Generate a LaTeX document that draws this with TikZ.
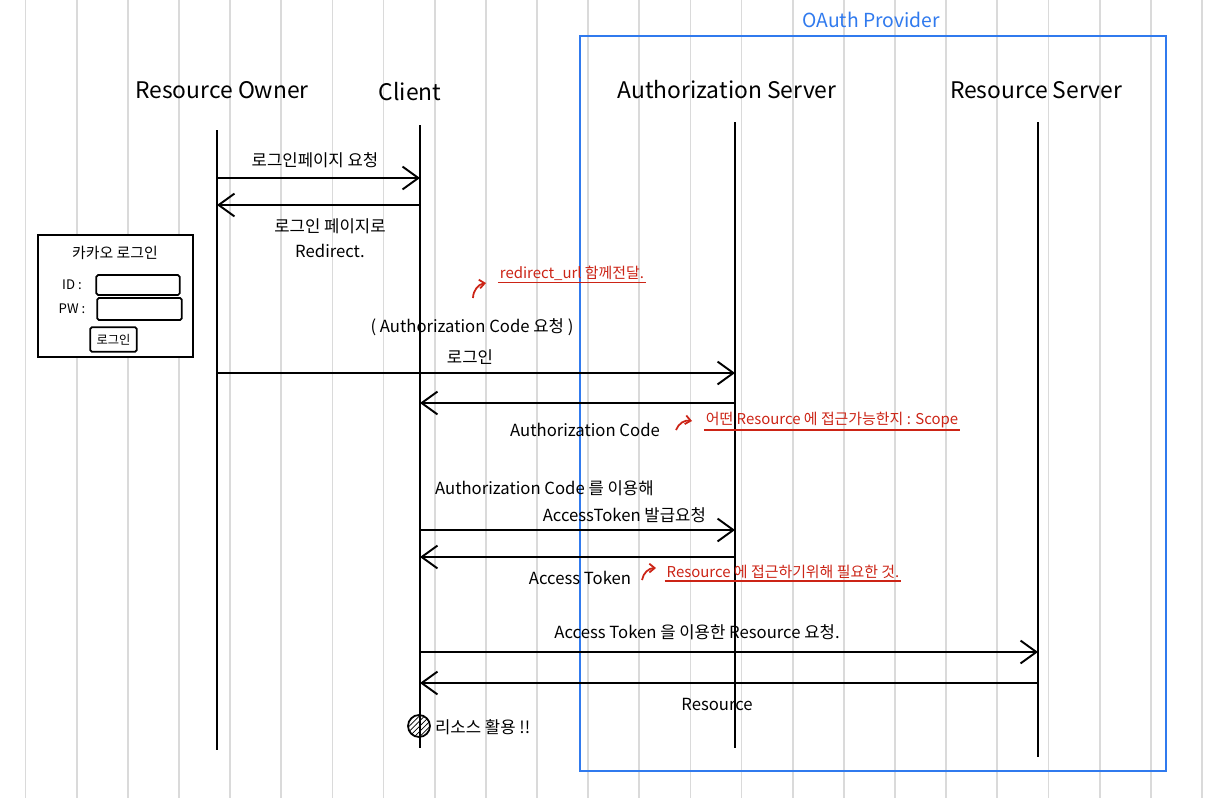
\documentclass[tikz,border=0pt]{standalone}
\usepackage{fontspec}
\setmainfont{Noto Sans CJK KR}
\usepackage{xcolor}
\usepackage{tikz}
\usetikzlibrary{arrows.meta,patterns}
\definecolor{gridgray}{RGB}{218,218,218}
\definecolor{notered}{RGB}{204,36,22}
\definecolor{provblue}{RGB}{48,122,238}

\begin{document}
\begin{tikzpicture}[x=0.02cm,y=-0.02cm,
  actor/.style={font=\fontsize{13}{15}\selectfont,inner sep=1pt},
  life/.style={line width=1.1pt},
  msg/.style={line width=1.1pt,-{Straight Barb[length=9pt,width=13pt,line width=1.1pt]}},
  lbl/.style={font=\fontsize{9.5}{14}\selectfont,align=center,inner sep=1pt},
  note/.style={text=notered,font=\fontsize{8.5}{10}\selectfont,inner sep=1pt},
  hook/.style={draw=notered,line width=1pt,-{Straight Barb[length=3pt,width=5pt]}},
  field/.style={draw,line width=1pt,rounded corners=1pt,inner sep=0pt}]
  \useasboundingbox (0,0) rectangle (1206,798);
  \fill[white] (0,0) rectangle (1206,798);
  % paper lines
  \foreach \k in {0,...,23}
    \draw[gridgray,line width=1pt] ({25.5+51.15*\k},0) -- ({25.5+51.15*\k},798);

  % provider frame
  \draw[provblue,line width=1.2pt] (580,36) rectangle (1166,771);
  \node[text=provblue,font=\fontsize{11}{13}\selectfont] (prov) at (871,20) {OAuth Provider};

  % actors
  \node[actor] (owner) at (222,90) {Resource Owner};
  \node[actor] (client) at (410,92) {Client};
  \node[actor] (authsrv) at (727,90) {Authorization Server};
  \node[actor] (ressrv) at (1036,90) {Resource Server};

  \coordinate (roT) at (217,130); \coordinate (roB) at (217,750);
  \coordinate (clT) at (420,125); \coordinate (clB) at (420,748);
  \coordinate (asT) at (735,122); \coordinate (asB) at (735,748);
  \coordinate (rsT) at (1038,122); \coordinate (rsB) at (1038,757);
  \draw[life] (roT) -- (roB);
  \draw[life] (clT) -- (clB);
  \draw[life] (asT) -- (asB);
  \draw[life] (rsT) -- (rsB);

  % message rows
  \coordinate (m1) at (0,178); \coordinate (m2) at (0,205);
  \coordinate (m3) at (0,373); \coordinate (m4) at (0,403);
  \coordinate (m5) at (0,530); \coordinate (m6) at (0,557);
  \coordinate (m7) at (0,652); \coordinate (m8) at (0,683);

  \draw[msg] (roT |- m1) -- (clT |- m1);
  \draw[msg] (clT |- m2) -- (roT |- m2);
  \draw[msg] (roT |- m3) -- (asT |- m3);
  \draw[msg] (asT |- m4) -- (clT |- m4);
  \draw[msg] (clT |- m5) -- (asT |- m5);
  \draw[msg] (asT |- m6) -- (clT |- m6);
  \draw[msg] (clT |- m7) -- (rsT |- m7);
  \draw[msg] (rsT |- m8) -- (clT |- m8);

  % labels
  \node[lbl] (l1) at (315,160) {로그인페이지 요청};
  \node[lbl] (l2) at (330,238) {로그인 페이지로\\Redirect.};
  \node[lbl] (l3a) at (472,327) {( Authorization Code 요청 )};
  \node[lbl] (l3b) at (470,357) {로그인};
  \node[lbl] (l4) at (585,430) {Authorization Code};
  \node[lbl,anchor=west] (l5a) at (433,488) {Authorization Code 를 이용해};
  \node[lbl,anchor=east] (l5b) at (708,515) {AccessToken 발급요청};
  \node[lbl] (l6) at (580,578) {Access Token};
  \node[lbl] (l7) at (697,632) {Access Token 을 이용한 Resource 요청.};
  \node[lbl] (l8) at (717,704) {Resource};

  % red notes
  \node[note] (n1) at (572,273) {redirect\_url 함께전달.};
  \node[note] (n2) at (832,420) {어떤 Resource 에 접근가능한지 : Scope};
  \node[note] (n3) at (783,572) {Resource 에 접근하기위해 필요한 것.};
  \foreach \n in {n1,n2,n3}
    \draw[notered,line width=1pt] (\n.south west) -- (\n.south east);
  \coordinate (h1a) at (473,298); \coordinate (h1b) at (486,283);
  \coordinate (h2a) at (676,430); \coordinate (h2b) at (692,421);
  \coordinate (h3a) at (642,580); \coordinate (h3b) at (656,568);
  \draw[hook] (h1a) to[bend left=40] (h1b);
  \draw[hook] (h2a) to[bend left=40] (h2b);
  \draw[hook] (h3a) to[bend left=40] (h3b);

  % login mockup
  \draw[line width=1.2pt,fill=white] (38,235) rectangle (193,357);
  \node[font=\fontsize{8.5}{10}\selectfont] (kakao) at (115,253) {카카오 로그인};
  \node[font=\fontsize{7.5}{9}\selectfont] (idl) at (72,285) {ID :};
  \node[font=\fontsize{7.5}{9}\selectfont] (pwl) at (72,309) {PW :};
  \node[field,minimum width=47.6pt,minimum height=11.3pt] (idf) at (138,285) {};
  \node[field,minimum width=48.2pt,minimum height=12.5pt] (pwf) at (139.5,309) {};
  \node[field,minimum width=26.6pt,minimum height=14pt,font=\fontsize{7}{8}\selectfont] (btn) at (113.5,339.5) {로그인};

  % end
  \node[circle,draw,line width=1pt,pattern=north east lines,minimum size=12.5pt,inner sep=0pt] (done) at (419,726) {};
  \node[lbl,anchor=west] (use) at (433,727) {리소스 활용 !!};
\end{tikzpicture}
\end{document}
